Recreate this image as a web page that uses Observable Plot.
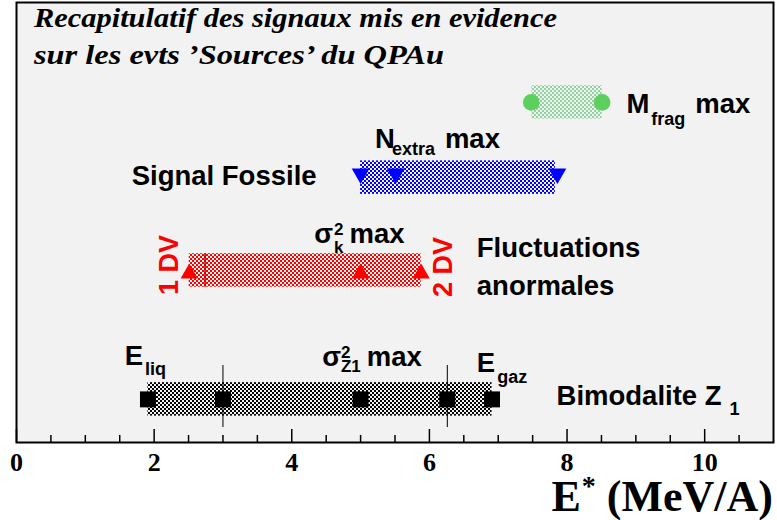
<!DOCTYPE html>
<html><head><meta charset="utf-8">
<script src="https://cdn.jsdelivr.net/npm/d3@7"></script>
<script src="https://cdn.jsdelivr.net/npm/@observablehq/plot@0.6"></script>
<style>body{margin:0;background:#fff}</style>
</head><body><div id="chart"></div>
<script>
// ---- data ----
const xDomain = [0, 11];
const yDomain = [0, 10];
const majorTicks = [0, 2, 4, 6, 8, 10];
const minorTicks = [0.5, 1, 1.5, 2.5, 3, 3.5, 4.5, 5, 5.5, 6.5, 7, 7.5, 8.5, 9, 9.5, 10.5];

const signalNames = ["Bimodalite Z1", "Fluctuations anormales", "Signal Fossile", "M frag max"];
const signalRows = [0.98, 3.91, 6.02, 7.73];
const signalLow = [1.91, 2.51, 5.0, 7.49];
const signalHigh = [6.91, 5.88, 7.83, 8.51];
const signalColors = ["#000000", "#ff0000", "#0000ff", "#4cbf66"];
const signalOpacity = [1, 1, 1, 0.6];

const bimodSquares = [1.91, 3.0, 5.0, 6.26, 6.91];
const bimodLines = [3.0, 6.26];
const fluctTriangles = [2.51, 5.0, 5.88];
const fluctLine = [2.74];
const fossilTriangles = [5.0, 5.51, 7.86];
const mfragCircles = [7.48, 8.51];

const titleLines = ["Recapitulatif des signaux mis en evidence", "sur les evts \u2019Sources\u2019 du QPAu"];
const titleWidths = [523, 410];
const xLabelParts = [["E", 44, 0, 0], ["*", 28, 1, -16], [" (MeV/A)", 44, 0, 16]];

// annotations: x, y in data units; parts: [text, fontSize, dx, dy]
const annotations = [
  {x: 8.870, y: 7.477, color: "black", parts: [["M", 27.5, 0, 0], ["frag", 18, 2, 12], ["max", 27.5, 10, -12]]},
  {x: 5.217, y: 6.682, color: "black", parts: [["N", 27.5, 0, 0], ["extra", 18, -3, 7], ["max", 27.5, 10, -7]]},
  {x: 1.681, y: 5.841, color: "black", parts: [["Signal Fossile", 27.5, 0, 0]]},
  {x: 4.333, y: 4.523, color: "black", parts: [["\u03c3", 27.5, 0, 0], ["2", 17, 1, -8], ["k", 17, -9.5, 18], ["max", 27.5, 6, -10]]},
  {x: 6.696, y: 4.205, color: "black", parts: [["Fluctuations", 27.5, 0, 0]]},
  {x: 6.696, y: 3.341, color: "black", parts: [["anormales", 27.5, 0, 0]]},
  {x: 1.580, y: 1.750, color: "black", parts: [["E", 27.5, 0, 0], ["liq", 18, 2, 10]]},
  {x: 4.449, y: 1.727, color: "black", parts: [["\u03c3", 27.5, 0, 0], ["2", 17, 0, -8], ["Z1", 17, -9.5, 14], ["max", 27.5, 6, -6]]},
  {x: 6.696, y: 1.591, color: "black", parts: [["E", 27.5, 0, 0], ["gaz", 18, 2, 11]]},
  {x: 7.855, y: 0.841, color: "black", parts: [["Bimodalite Z", 27.5, 0, 0], ["1", 18, 8, 10]]}
];
const rotatedLabels = [
  {x: 2.348, y: 4.023, text: "1 DV", color: "#ff0000"},
  {x: 6.333, y: 3.977, text: "2 DV", color: "#ff0000"}
];

// ---- build ----
const signals = signalNames.map((name, i) => ({
  name, row: signalRows[i], lo: signalLow[i], hi: signalHigh[i], id: "pat" + i
}));
const halfH = 0.38;

const plot = Plot.plot({
  width: 777,
  height: 520,
  marginLeft: 16,
  marginRight: 4,
  marginTop: 2,
  marginBottom: 78,
  style: {background: "white", fontFamily: "Liberation Sans", overflow: "visible"},
  x: {domain: xDomain, axis: null},
  y: {domain: yDomain, axis: null},
  marks: [
    Plot.frame({fill: "#f2f2f2", stroke: "none"}),
    ...signals.map(s => Plot.rect([s], {x1: "lo", x2: "hi", y1: d => d.row - halfH, y2: d => d.row + halfH, fill: `url(#${s.id})`})),
    Plot.ruleX(bimodLines, {x: d => d, y1: 0.34, y2: 1.75, stroke: "black", strokeWidth: 1}),
    Plot.ruleX(fluctLine, {x: d => d, y1: signalRows[1] - halfH, y2: signalRows[1] + halfH, stroke: "#c00000", strokeWidth: 1.5}),
    Plot.dot(bimodSquares, {x: d => d, y: () => signalRows[0], symbol: "square", r: 9, fill: "black", stroke: "none"}),
    Plot.dot(fluctTriangles, {x: d => d, y: () => signalRows[1], symbol: "triangle", r: 6.4, fill: signalColors[1], stroke: "none", dy: 3}),
    Plot.dot(fossilTriangles, {x: d => d, y: () => signalRows[2], symbol: "triangle", rotate: 180, r: 6.6, fill: signalColors[2], stroke: "none", dy: -4}),
    Plot.dot(mfragCircles, {x: d => d, y: () => signalRows[3], symbol: "circle", r: 8.3, fill: "#5ccf5c", stroke: "none"}),
    Plot.ruleX(majorTicks, {x: d => d, insetTop: 427, stroke: "black", strokeWidth: 1.5}),
    Plot.ruleX(minorTicks, {x: d => d, insetTop: 433, stroke: "black", strokeWidth: 1.5}),
    Plot.axisX({ticks: majorTicks, tickSize: 0, tickPadding: 10, fontSize: 26, fontWeight: "bold", fontFamily: "Liberation Serif", label: null, tickFormat: d => String(d)}),
    Plot.frame({stroke: "black", strokeWidth: 2, fill: "none"})
  ]
});

const svg = d3.select(plot);
const defs = svg.insert("defs", ":first-child");
signals.forEach((s, i) => {
  const p = defs.append("pattern").attr("id", s.id).attr("patternUnits", "userSpaceOnUse").attr("width", 4).attr("height", 4);
  p.append("rect").attr("width", 2).attr("height", 2).attr("fill", signalColors[i]).attr("fill-opacity", signalOpacity[i]);
  p.append("rect").attr("x", 2).attr("y", 2).attr("width", 2).attr("height", 2).attr("fill", signalColors[i]).attr("fill-opacity", signalOpacity[i]);
});

const sx = plot.scale("x"), sy = plot.scale("y");
const g = svg.append("g").attr("font-family", "Liberation Sans").attr("font-weight", "bold").attr("text-anchor", "start");
annotations.forEach(a => {
  const t = g.append("text").attr("x", sx.apply(a.x)).attr("y", sy.apply(a.y)).attr("fill", a.color);
  a.parts.forEach(([txt, fs, dx, dy]) => {
    t.append("tspan").attr("font-size", fs).attr("dx", dx).attr("dy", dy).text(txt);
  });
});
rotatedLabels.forEach(r => {
  const px = sx.apply(r.x), py = sy.apply(r.y);
  g.append("text").attr("transform", `translate(${px},${py}) rotate(-90)`)
    .attr("text-anchor", "middle").attr("font-size", 27).attr("fill", r.color).text(r.text);
});

// title
const tg = svg.append("g").attr("font-family", "Liberation Serif").attr("font-weight", "bold").attr("font-style", "italic").attr("font-size", 28).attr("text-anchor", "start");
const x0 = sx.apply(xDomain[0]);
titleLines.forEach((line, i) => {
  tg.append("text").attr("x", x0 + 18).attr("y", 27 + i * 37)
    .attr("textLength", titleWidths[i]).attr("lengthAdjust", "spacingAndGlyphs").text(line);
});

// x axis label
const xl = svg.append("text").attr("x", sx.apply(xDomain[1])).attr("y", 511)
  .attr("text-anchor", "end").attr("font-family", "Liberation Serif").attr("font-weight", "bold");
xLabelParts.forEach(([txt, fs, dx, dy]) => {
  xl.append("tspan").attr("font-size", fs).attr("dx", dx).attr("dy", dy).text(txt);
});

document.getElementById("chart").appendChild(plot);
</script>
</body></html>
